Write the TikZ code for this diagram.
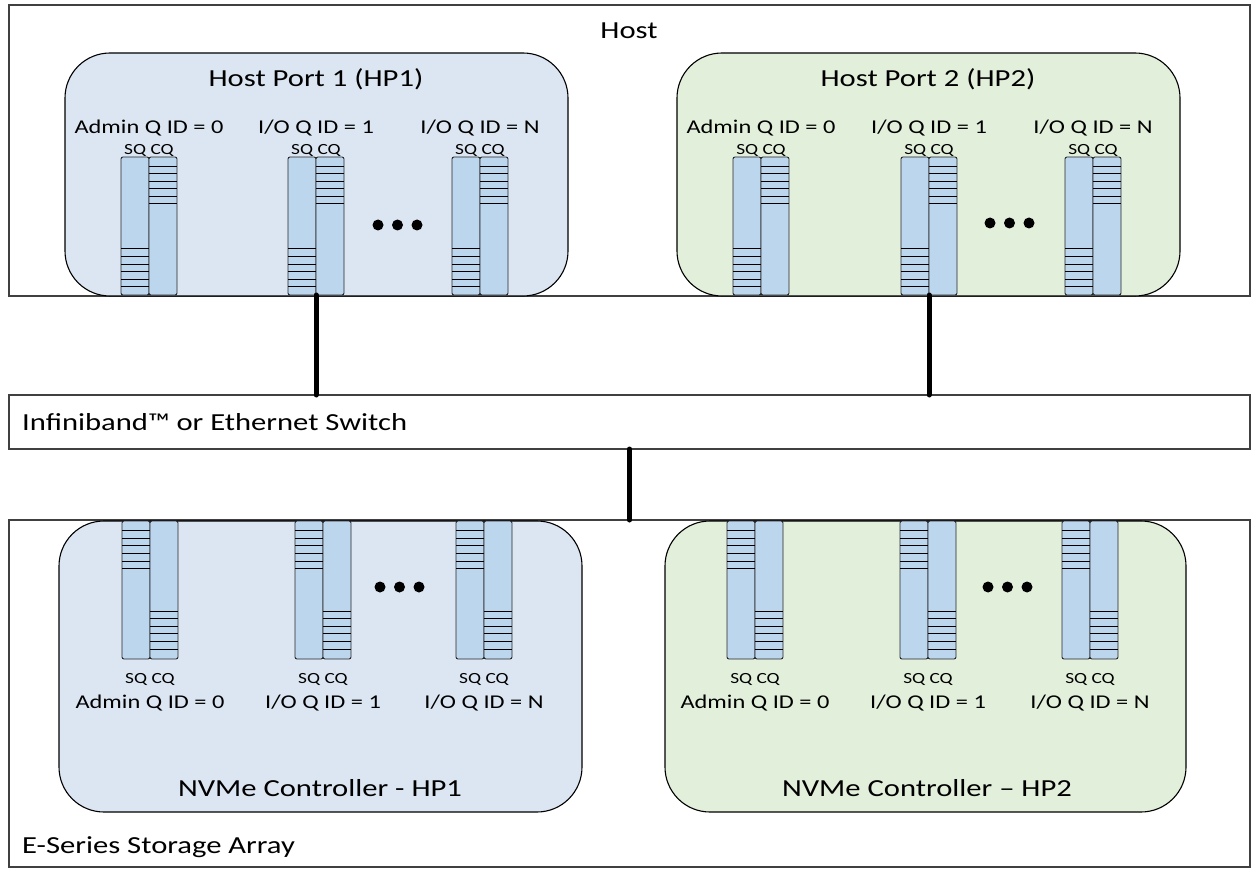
\documentclass[tikz,border=0pt]{standalone}
\usepackage{fontspec}
\setmainfont{Carlito}[FakeStretch=1.25]
\definecolor{portblue}{HTML}{DCE6F2}
\definecolor{portgreen}{HTML}{E2EFDA}
\definecolor{qfill}{HTML}{BCD6EE}
\definecolor{edgegray}{HTML}{404040}
\tikzset{
  frame/.style={draw=edgegray, line width=1.3pt, fill=white, inner sep=0pt, outer sep=0pt, anchor=north west},
  port/.style={draw=black, line width=1.1pt, rounded corners=45pt, inner sep=0pt, outer sep=0pt, anchor=north west},
  qcol/.style={draw=black!85, line width=0.9pt, fill=qfill, rounded corners=2pt,
    minimum width=28pt, minimum height=138pt, inner sep=0pt, outer sep=0pt, anchor=north west},
  slot/.style={draw=black, line width=1pt},
  link/.style={line width=5pt, line cap=round},
  bigtext/.style={font=\fontsize{24.5}{28}\selectfont, inner sep=0pt},
  qtext/.style={font=\fontsize{19.5}{22}\selectfont, inner sep=0pt, anchor=base},
  subtext/.style={font=\fontsize{15.5}{17}\selectfont, inner sep=0pt, anchor=base},
  qdot/.style={circle, fill=black, inner sep=0pt, minimum size=11pt},
}
% host-side queue pair: CQ slots on top, SQ slots at the bottom, labels above
\newcommand\hostpair[4]{%
  \node[qcol] (#1-sq) at (#2,#3) {};
  \node[qcol] (#1-cq) at (#1-sq.north east) {};
  \foreach \k in {0,...,5}{
    \draw[slot] (#1-cq.north west) ++(0,{9.5+7.5*\k}) -- ++(28,0);
    \draw[slot] (#1-sq.south west) ++(0,{-8.5-7.5*\k}) -- ++(28,0);
  }
  \node[subtext] (#1-sub) at ([yshift=2pt]#1-sq.north east) {SQ CQ};
  \node[qtext] (#1-lbl) at ([yshift=23pt]#1-sq.north east) {#4};
}
% controller-side queue pair: SQ slots on top, CQ slots at the bottom, labels below
\newcommand\ctrlpair[4]{%
  \node[qcol] (#1-sq) at (#2,#3) {};
  \node[qcol] (#1-cq) at (#1-sq.north east) {};
  \foreach \k in {0,...,5}{
    \draw[slot] (#1-sq.north west) ++(0,{9.7+7.6*\k}) -- ++(28,0);
    \draw[slot] (#1-cq.south west) ++(0,{-10-7.6*\k}) -- ++(28,0);
  }
  \node[subtext] (#1-sub) at ([yshift=-24pt]#1-sq.south east) {SQ CQ};
  \node[qtext] (#1-lbl) at ([yshift=-49pt]#1-sq.south east) {#4};
}
\newcommand\ellipsisdots[3]{%
  \foreach \i in {0,1,2}{
    \node[qdot] (#1-\i) at ({#2+19.5*\i},#3) {};
  }
}
\begin{document}
\begin{tikzpicture}[x=1pt,y=-1pt]
\useasboundingbox (0,0) rectangle (1253,869);

% outer frames
\node[frame, minimum width=1241pt, minimum height=291pt] (host) at (9,5) {};
\node[frame, minimum width=1241pt, minimum height=54pt] (sw) at (9,395) {};
\node[frame, minimum width=1241pt, minimum height=347pt] (store) at (9,520) {};

% host ports and controllers
\node[port, fill=portblue, minimum width=503pt, minimum height=243pt] (hp1) at (65,53) {};
\node[port, fill=portgreen, minimum width=503pt, minimum height=243pt] (hp2) at (677,53) {};
\node[port, fill=portblue, minimum width=523pt, minimum height=291pt] (ctl1) at (59,521) {};
\node[port, fill=portgreen, minimum width=521pt, minimum height=291pt] (ctl2) at (665,521) {};

% titles
\node[bigtext, anchor=base] (hostlbl) at (629,39) {Host};
\node[bigtext, anchor=base] (hp1lbl) at (316,87) {Host Port 1 (HP1)};
\node[bigtext, anchor=base] (hp2lbl) at (928,87) {Host Port 2 (HP2)};
\node[bigtext, anchor=base west] (swlbl) at (22,430) {Infiniband™ or Ethernet Switch};
\node[bigtext, anchor=base] (ctl1lbl) at (320,796) {NVMe Controller - HP1};
\node[bigtext, anchor=base] (ctl2lbl) at (927,796) {NVMe Controller – HP2};
\node[bigtext, anchor=base west] (storelbl) at (22,853) {E-Series Storage Array};

% switch to storage array
\draw[link] (sw.south) -- (sw.south |- store.north);

% host port queues
\hostpair{ha0}{121}{157}{Admin Q ID = 0}
\hostpair{ha1}{288}{157}{I/O Q ID = 1}
\hostpair{han}{452}{157}{I/O Q ID = N}
\ellipsisdots{hadots}{378}{225}
\hostpair{hb0}{733}{157}{Admin Q ID = 0}
\hostpair{hb1}{901}{157}{I/O Q ID = 1}
\hostpair{hbn}{1065}{157}{I/O Q ID = N}
\ellipsisdots{hbdots}{990}{223}

% controller queues
\ctrlpair{ca0}{122}{521}{Admin Q ID = 0}
\ctrlpair{ca1}{295}{521}{I/O Q ID = 1}
\ctrlpair{can}{456}{521}{I/O Q ID = N}
\ellipsisdots{cadots}{380}{587}
\ctrlpair{cb0}{727}{521}{Admin Q ID = 0}
\ctrlpair{cb1}{900}{521}{I/O Q ID = 1}
\ctrlpair{cbn}{1062}{521}{I/O Q ID = N}
\ellipsisdots{cbdots}{988}{587}

% host port uplinks to the switch
\draw[link] (ha1-sq.south east) -- (ha1-sq.south east |- sw.north);
\draw[link] (hb1-sq.south east) -- (hb1-sq.south east |- sw.north);
\end{tikzpicture}
\end{document}
